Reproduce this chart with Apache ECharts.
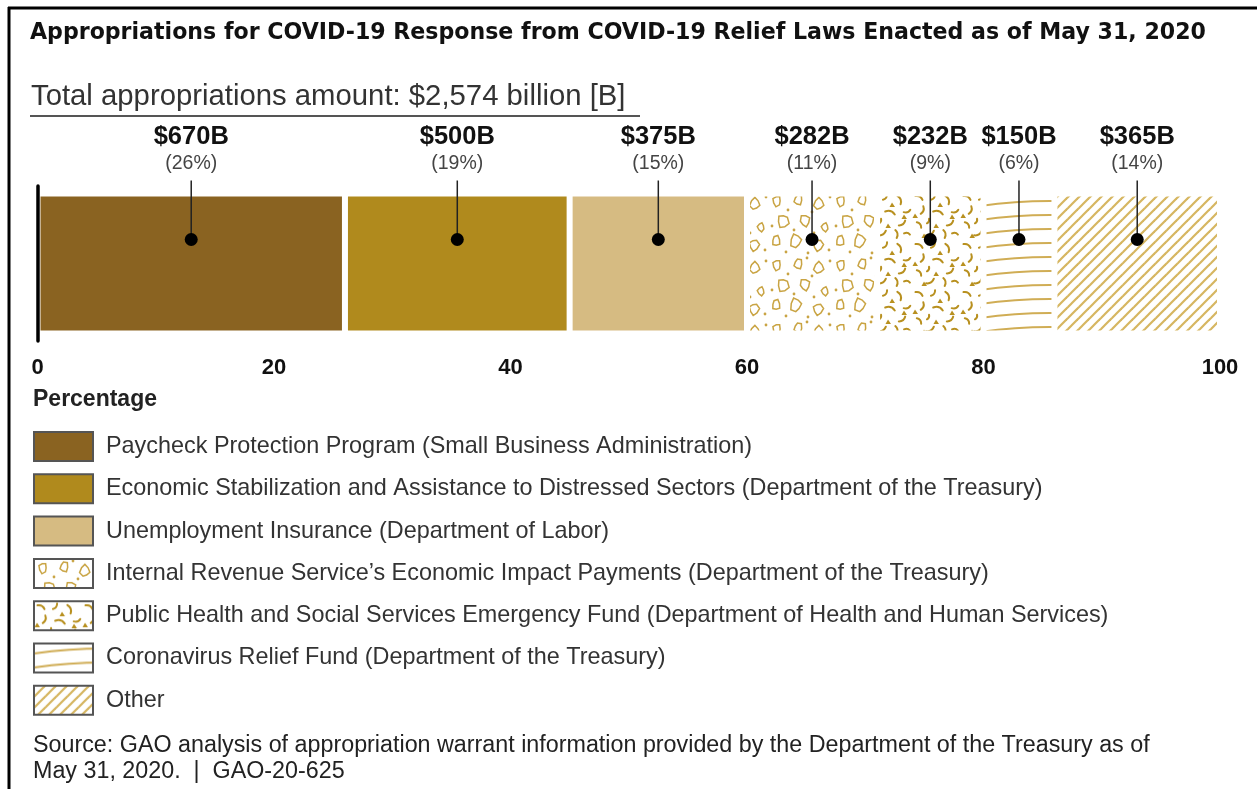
<!DOCTYPE html>
<html>
<head>
<meta charset="utf-8">
<script src="https://cdn.jsdelivr.net/npm/echarts@6/dist/echarts.min.js"></script>
<style>
html,body{margin:0;padding:0;background:#fff;}
#chart{width:1257px;height:789px;}
</style>
</head>
<body>
<div id="chart"></div>
<script>
// ---------------- DATA ----------------
const titleText = 'Appropriations for COVID-19 Response from COVID-19 Relief Laws Enacted as of May 31, 2020';
const totalLabel = 'Total appropriations amount: $2,574 billion [B]';
const categories = [
  'Paycheck Protection Program (Small Business Administration)',
  'Economic Stabilization and Assistance to Distressed Sectors (Department of the Treasury)',
  'Unemployment Insurance (Department of Labor)',
  "Internal Revenue Service\u2019s Economic Impact Payments (Department of the Treasury)",
  'Public Health and Social Services Emergency Fund (Department of Health and Human Services)',
  'Coronavirus Relief Fund (Department of the Treasury)',
  'Other'
];
const amountsB = [670, 500, 375, 282, 232, 150, 365];
const percents = [26, 19, 15, 11, 9, 6, 14];
const axisMin = 0, axisMax = 100, axisStep = 20;
const axisName = 'Percentage';
const sourceLines = [
  'Source: GAO analysis of appropriation warrant information provided by the Department of the Treasury as of',
  'May 31, 2020.  |  GAO-20-625'
];

// ---------------- PATTERNS (style only) ----------------
function tile(w, h, draw) {
  const c = document.createElement('canvas');
  c.width = w; c.height = h;
  const g = c.getContext('2d');
  g.fillStyle = '#fff'; g.fillRect(0, 0, w, h);
  draw(g);
  return { image: c, repeat: 'repeat' };
}
function irsPattern() {
  return tile(64, 64, g => {
    g.strokeStyle = '#c9a443'; g.fillStyle = '#c9a443'; g.lineWidth = 1.5;
    const blobs = [[9,9,6],[30,8,6],[51,12,7],[15,29,8],[37,29,7],[57,35,5],[8,49,6],[28,49,8],[50,53,7]];
    blobs.forEach((b, i) => {
      g.beginPath();
      for (let k = 0; k < 7; k++) {
        const a = k / 7 * Math.PI * 2 + i;
        const r = b[2] * (0.65 + 0.35 * (((i * 5 + k * 3) % 7) / 6));
        const x = b[0] + Math.cos(a) * r * 0.8, y = b[1] + Math.sin(a) * r;
        if (k === 0) g.moveTo(x, y); else g.lineTo(x, y);
      }
      g.closePath(); g.stroke();
    });
    [[20,18],[44,20],[4,34],[26,38],[46,41],[18,60],[40,61],[62,5],[61,58],[39,2]].forEach(d => {
      g.beginPath(); g.arc(d[0], d[1], 1.4, 0, Math.PI * 2); g.fill();
    });
  });
}
function phPattern() {
  return tile(48, 48, g => {
    g.strokeStyle = '#b8901f'; g.fillStyle = '#b8901f'; g.lineWidth = 2; g.lineCap = 'round';
    const s = [[7,6,0.5,8],[21,5,2.2,7],[35,8,1.2,9],[43,19,2.8,7],[10,18,1.9,8],[26,21,0.3,10],
               [38,31,2.5,8],[7,33,0.9,7],[18,41,2.6,9],[32,42,1.4,8],[43,42,0.2,6],[16,29,2.0,5]];
    s.forEach((v, i) => {
      const dx = Math.cos(v[2]) * v[3] / 2, dy = Math.sin(v[2]) * v[3] / 2;
      g.beginPath();
      g.moveTo(v[0] - dx, v[1] - dy);
      g.quadraticCurveTo(v[0] + dy * 0.8, v[1] - dx * 0.8, v[0] + dx, v[1] + dy);
      g.stroke();
    });
    [[28,13],[12,44],[40,25],[3,24],[24,34]].forEach(t => {
      g.beginPath(); g.moveTo(t[0], t[1] - 2.5); g.lineTo(t[0] + 3, t[1] + 2); g.lineTo(t[0] - 2.5, t[1] + 2);
      g.closePath(); g.fill();
    });
  });
}
function crfPattern() {
  return tile(140, 14, g => {
    g.strokeStyle = '#d0ad55'; g.lineWidth = 1.8;
    g.beginPath(); g.moveTo(0, 10); g.quadraticCurveTo(70, 0, 140, 10); g.stroke();
  });
}
function otherPattern() {
  return tile(11, 11, g => {
    g.strokeStyle = '#d6b661'; g.lineWidth = 2.2;
    [[-11, 11], [0, 11], [11, 11]].forEach(o => {
      g.beginPath(); g.moveTo(o[0] - 1, o[1] + 1); g.lineTo(o[0] + 12, o[1] - 12); g.stroke();
    });
  });
}
const fills = ['#8a6321', '#b08a1d', '#d6bb82', irsPattern(), phPattern(), crfPattern(), otherPattern()];

// ---------------- CHART ----------------
const chart = echarts.init(document.getElementById('chart'), null, { renderer: 'canvas' });

const barSeries = categories.map((name, i) => ({
  name: name,
  type: 'bar',
  stack: 'total',
  barWidth: 140,
  data: [percents[i]],
  itemStyle: { color: fills[i], borderColor: '#fff', borderWidth: 3 },
  emphasis: { disabled: true },
  silent: true
}));

let acc = 0;
const annoData = percents.map((p, i) => {
  const mid = acc + p / 2; acc += p;
  return [mid, 0, amountsB[i], p];
});

const annoSeries = {
  type: 'custom',
  name: 'anno',
  z: 10,
  silent: true,
  encode: { x: 0, y: 1 },
  data: annoData,
  renderItem: (params, api) => {
    const pt = api.coord([api.value(0), api.value(1)]);
    const x = pt[0], y = pt[1];
    return {
      type: 'group',
      children: [
        { type: 'line', shape: { x1: x, y1: y - 24, x2: x, y2: y - 83 }, style: { stroke: '#222', lineWidth: 1.5 } },
        { type: 'circle', shape: { cx: x, cy: y - 24, r: 6.5 }, style: { fill: '#000' } },
        { type: 'text', x: x, y: y - 127, style: { text: '$' + api.value(2) + 'B', fill: '#111',
          font: 'bold 25.5px "Liberation Sans", Arial, sans-serif', align: 'center', verticalAlign: 'middle' } },
        { type: 'text', x: x, y: y - 100, style: { text: '(' + api.value(3) + '%)', fill: '#444',
          font: '19.5px "Liberation Sans", Arial, sans-serif', align: 'center', verticalAlign: 'middle' } }
      ]
    };
  }
};

const option = {
  animation: false,
  backgroundColor: '#fff',
  grid: { left: 37.5, right: 37, top: 186, height: 155, containLabel: false },
  xAxis: {
    type: 'value', min: axisMin, max: axisMax, interval: axisStep,
    axisLine: { show: false }, axisTick: { show: false }, splitLine: { show: false },
    axisLabel: { color: '#111', fontWeight: 'bold', fontSize: 22, fontFamily: '"Liberation Sans", Arial, sans-serif', margin: 16 }
  },
  yAxis: {
    type: 'category', data: ['Total'], z: 5,
    axisLine: { show: true, lineStyle: { color: '#000', width: 3.5 } },
    axisTick: { show: false }, axisLabel: { show: false }, splitLine: { show: false }
  },
  legend: {
    orient: 'vertical', left: 33, top: 431, padding: 0,
    data: categories, icon: 'rect',
    itemWidth: 59, itemHeight: 29, itemGap: 11.3,
    selectedMode: false,
    itemStyle: { borderColor: '#555', borderWidth: 2 },
    textStyle: { color: '#333', fontSize: 23.4, fontFamily: '"Liberation Sans", Arial, sans-serif', padding: [0, 0, 0, 8] }
  },
  graphic: [
    { type: 'line', shape: { x1: 9, y1: 7, x2: 9, y2: 789 }, style: { stroke: '#000', lineWidth: 3 } },
    { type: 'line', shape: { x1: 8, y1: 8, x2: 1257, y2: 8 }, style: { stroke: '#000', lineWidth: 3 } },
    { type: 'text', left: 30, top: 22, style: { text: titleText, fill: '#111',
      font: 'bold 22.1px "DejaVu Sans", Verdana, sans-serif' } },
    { type: 'text', left: 31, top: 82, style: { text: totalLabel, fill: '#333',
      font: '29.3px "Liberation Sans", Arial, sans-serif' } },
    { type: 'line', shape: { x1: 30, y1: 116, x2: 640, y2: 116 }, style: { stroke: '#555', lineWidth: 2 } },
    { type: 'text', left: 33, top: 388, style: { text: axisName, fill: '#222',
      font: 'bold 23px "Liberation Sans", Arial, sans-serif' } },
    { type: 'text', left: 33, top: 733, style: { text: sourceLines.join('\n'), fill: '#222', lineHeight: 26,
      font: '23.3px "Liberation Sans", Arial, sans-serif' } }
  ],
  series: barSeries.concat([annoSeries])
};
chart.setOption(option);
</script>
</body>
</html>
